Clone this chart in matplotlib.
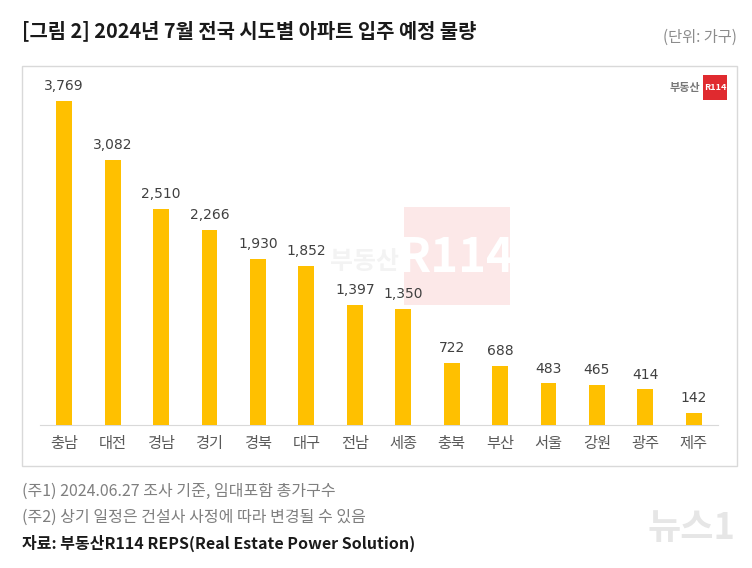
import matplotlib.pyplot as plt
from matplotlib.patches import Rectangle

plt.rcParams['font.family'] = ['Noto Sans CJK KR', 'DejaVu Sans']

regions = ['충남', '대전', '경남', '경기', '경북', '대구', '전남', '세종',
           '충북', '부산', '서울', '강원', '광주', '제주']
units = [3769, 3082, 2510, 2266, 1930, 1852, 1397, 1350,
         722, 688, 483, 465, 414, 142]

W, H = 752, 568
fig = plt.figure(figsize=(W / 100, H / 100), dpi=100)


def fx(px):
    return px / W


def fy(py):
    return 1 - py / H


# panel frame
fig.patches.append(Rectangle((fx(22), fy(466)), fx(737) - fx(22), fy(66) - fy(466),
                             transform=fig.transFigure, fill=False,
                             edgecolor='#d9d9d9', linewidth=1, zorder=-3))

# faded watermark in the middle (kept under the axes)
fig.patches.append(Rectangle((fx(404), fy(305)), fx(510) - fx(404), fy(207) - fy(305),
                             transform=fig.transFigure, facecolor='#fce8e8',
                             edgecolor='none', zorder=-3))
fig.text(fx(457), fy(258), 'R114', color='white', fontsize=34, fontweight='bold',
         ha='center', va='center', zorder=-2)
fig.text(fx(399), fy(262), '부동산', color='#f3f3f3', fontsize=18, fontweight='bold',
         ha='right', va='center', zorder=-2)

ax = fig.add_axes([fx(40), fy(425), fx(718) - fx(40), 344 / H])
ax.set_facecolor('none')
x = range(len(regions))
ax.bar(x, units, width=0.33, color='#FFC000', zorder=3)
for i, v in zip(x, units):
    ax.text(i, v + 90, f'{v:,}', ha='center', va='bottom', fontsize=10,
            color='#404040', family=['DejaVu Sans'])
ax.set_xlim(-0.5, len(regions) - 0.5)
ax.set_ylim(0, 4000)
ax.set_yticks([])
ax.set_xticks(list(x))
ax.set_xticklabels(regions, fontsize=11, color='#595959')
ax.tick_params(axis='x', length=0, pad=7)
for s in ['top', 'right', 'left']:
    ax.spines[s].set_visible(False)
ax.spines['bottom'].set_color('#d9d9d9')

# logo top right
fig.text(fx(700), fy(87), '부동산', color='#777777', fontsize=8, fontweight='bold',
         ha='right', va='center')
fig.patches.append(Rectangle((fx(703), fy(100)), fx(727) - fx(703), fy(75) - fy(100),
                             transform=fig.transFigure, facecolor='#e02a2f',
                             edgecolor='none'))
fig.text(fx(715), fy(87.5), 'R114', color='white', fontsize=6.5, fontweight='bold',
         ha='center', va='center')

# title and unit
fig.text(fx(22), fy(31), '[그림 2] 2024년 7월 전국 시도별 아파트 입주 예정 물량',
         fontsize=14.3, fontweight='bold', color='#1a1a1a', ha='left', va='center')
fig.text(fx(737), fy(37), '(단위: 가구)', fontsize=11, color='#8c8c8c',
         ha='right', va='center')

# notes
fig.text(fx(22), fy(491), '(주1) 2024.06.27 조사 기준, 임대포함 총가구수',
         fontsize=11.5, color='#7f7f7f', ha='left', va='center')
fig.text(fx(22), fy(517), '(주2) 상기 일정은 건설사 사정에 따라 변경될 수 있음',
         fontsize=11.5, color='#7f7f7f', ha='left', va='center')
fig.text(fx(22), fy(543), '자료: 부동산R114 REPS(Real Estate Power Solution)',
         fontsize=11.5, fontweight='bold', color='#1a1a1a', ha='left', va='center')

# news watermark
fig.text(fx(735), fy(528), '뉴스1', fontsize=26, fontweight='bold', style='italic',
         color='#e6e6e6', ha='right', va='center')

fig.savefig('out.png', dpi=100)
